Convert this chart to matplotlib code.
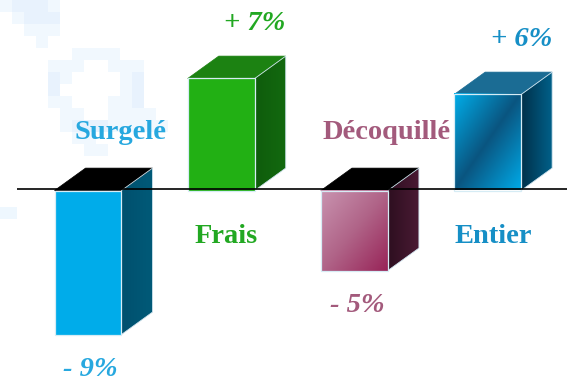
import numpy as np
import matplotlib
matplotlib.use("Agg")
import matplotlib.pyplot as plt
from matplotlib.patches import Polygon, Rectangle
from matplotlib.colors import to_rgb, to_rgba

# ---- data -------------------------------------------------------------
categories = ["Surgelé", "Frais", "Décoquillé", "Entier"]
values = [-9, 7, -5, 6]
value_labels = ["- 9%", "+ 7%", "- 5%", "+ 6%"]
text_colors = ["#27a8df", "#22a822", "#a35a7c", "#168fc6"]

# ---- styling of each box: front, top, side ----------------------------
front_styles = [
    ("flat", "#00acea"),
    ("flat", "#22b014"),
    ("diag", ("#c994b0", "#b06488", "#982458")),
    ("band", ("#00aeea", "#0a5580", "#00aae8")),
]
top_colors = ["#000000", "#1c8212", "#000000", "#1b6c94"]
side_styles = [
    ("#00506e", "#005a78"),
    ("#0f5c0c", "#136a0f"),
    ("#2e0f20", "#4a1a34"),
    ("#00304a", "#00618a"),
]

W = 0.503      # bar width (category units)
DX = 0.233     # depth offset in x
DY = 1.40      # depth offset in y (percent units)

fig = plt.figure(figsize=(5.67, 3.81), dpi=100)
ax = fig.add_axes([0, 0, 1, 1])
XL = (-88 / 133.2, (567 - 88) / 133.2)
YL = (-11.906, 11.906)
ax.set_xlim(*XL)
ax.set_ylim(*YL)
ax.axis("off")
fig.patch.set_facecolor("white")

# faint pixelated motif in the background (top-left corner)
motif = [
    "122210000000000",
    "012220000000000",
    "001110000000000",
    "000100000000000",
    "000000111100000",
    "000011100111000",
    "000021000012000",
    "000020000012000",
    "000011000112000",
    "000001100111100",
    "000001222111110",
    "000000110000000",
    "000000011000000",
    "000000000000000",
    "000000000000000",
]
levels = {"0": (1, 1, 1, 0), "1": to_rgba("#f1f8fe"), "2": to_rgba("#e8f2fd")}
motif_img = np.array([[levels[c] for c in row] for row in motif])
px2x = lambda p: XL[0] + p / 567 * (XL[1] - XL[0])
py2y = lambda p: YL[1] - p / 381 * (YL[1] - YL[0])
ax.imshow(motif_img, extent=(px2x(0), px2x(180), py2y(180), py2y(0)),
          origin="upper", aspect="auto", interpolation="nearest", zorder=0)
ax.add_patch(Rectangle((px2x(0), py2y(219)), px2x(17) - px2x(0), py2y(207) - py2y(219),
                       facecolor="#eef7fe", edgecolor="none", zorder=0))


def lerp_colors(stops, u):
    """Piecewise-linear interpolation between evenly spaced colour stops."""
    cols = np.array([to_rgb(c) for c in stops])
    pos = np.linspace(0, 1, len(cols))
    out = np.empty(u.shape + (3,))
    for k in range(3):
        out[..., k] = np.interp(u, pos, cols[:, k])
    return out


def gradient_image(kind, colors, n=80):
    yy, xx = np.mgrid[0:n, 0:n] / (n - 1)
    if kind in ("diag", "band"):
        u = (xx + yy) / 2
    else:  # horizontal, left -> right
        u = xx
    return lerp_colors(colors, u)


for i, (v, fs, tc, ss) in enumerate(zip(values, front_styles, top_colors, side_styles)):
    x0, x1 = i - W / 2, i + W / 2
    lo, hi = min(0, v), max(0, v)

    # side face
    side_pts = [(x1, lo), (x1 + DX, lo + DY), (x1 + DX, hi + DY), (x1, hi)]
    side = Polygon(side_pts, closed=True, facecolor="none", edgecolor="none", zorder=2)
    ax.add_patch(side)
    img = ax.imshow(gradient_image("h", ss), extent=(x1, x1 + DX, lo, hi + DY),
                    origin="upper", aspect="auto", zorder=2, interpolation="bilinear")
    img.set_clip_path(side)
    ax.add_patch(Polygon(side_pts, closed=True, facecolor="none", edgecolor="#cfe3ee",
                         lw=0.6, zorder=3))

    # top face
    ax.add_patch(Polygon([(x0, hi), (x0 + DX, hi + DY), (x1 + DX, hi + DY), (x1, hi)],
                         closed=True, facecolor=tc, edgecolor=tc, lw=0.5, zorder=2))

    # front face
    if fs[0] == "flat":
        ax.add_patch(Rectangle((x0, lo), W, hi - lo, facecolor=fs[1],
                               edgecolor="none", zorder=4))
    else:
        ax.imshow(gradient_image(fs[0], fs[1]), extent=(x0, x1, lo, hi),
                  origin="upper", aspect="auto", zorder=4, interpolation="bilinear")
    ax.add_patch(Rectangle((x0, lo), W, hi - lo, facecolor="none",
                           edgecolor="#d6ecf5", lw=0.9, zorder=5))

# baseline
ax.plot([-0.533, 3.62], [0.1, 0.1], color="black", lw=1.2, zorder=6,
        solid_capstyle="butt")

# labels
font = dict(family="Liberation Serif", fontweight="bold", fontsize=20.5)
for i, (cat, v, lab, col) in enumerate(zip(categories, values, value_labels, text_colors)):
    if v > 0:
        ax.text(i + DX + 0.02, v + DY + 1.6, lab, color=col, ha="center",
                va="baseline", style="italic", zorder=7, **font)
        ax.text(i + 0.04, -3.25, cat, color=col, ha="center", va="baseline",
                zorder=7, **font)
    else:
        ax.text(i + 0.02, v - 2.62, lab, color=col, ha="center",
                va="baseline", style="italic", zorder=7, **font)
        ax.text(i + DX + 0.01, 3.22, cat, color=col, ha="center", va="baseline",
                zorder=7, **font)

fig.savefig("out.png", dpi=100, facecolor="white")
